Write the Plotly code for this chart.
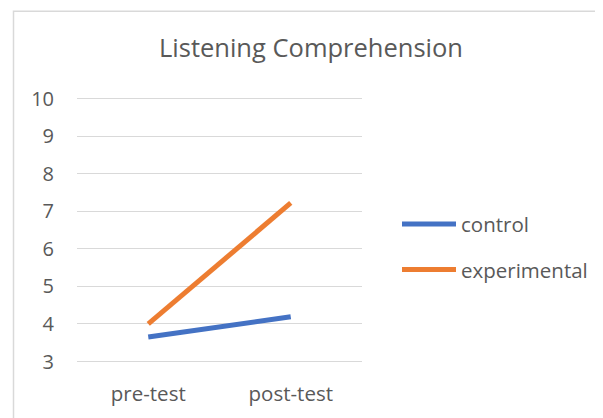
import plotly.graph_objects as go

categories = ["pre-test", "post-test"]
control = [3.65, 4.19]
experimental = [4.0, 7.22]
y_ticks = [3, 4, 5, 6, 7, 8, 9, 10]
y_range = [2.96, 10.04]

W, H = 603, 418
OFF = 8  # page body margin
PAD = 1.5  # keeps the 3 and 10 grid lines inside the plot area
L, R = 77 - OFF, W - 362 + OFF
T, B = 98 - OFF - PAD, H - 362 + OFF - PAD
pw, ph = W - L - R, H - T - B

def px(x):
    return (x - OFF - L) / pw

def py(y):
    return (H - B - (y - OFF)) / ph

fig = go.Figure()
fig.add_trace(go.Scatter(x=categories, y=control, mode="lines", name="control",
                         legendgroup="a", line=dict(color="#4472C4", width=5)))
fig.add_trace(go.Scatter(x=categories, y=experimental, mode="lines", name="experimental",
                         legendgroup="b", line=dict(color="#ED7D31", width=5)))

font = "'Open Sans', sans-serif"
fig.update_layout(
    width=W, height=H,
    margin=dict(l=L, r=R, t=T, b=B),
    paper_bgcolor="white", plot_bgcolor="white",
    font=dict(family=font, size=20, color="#595959"),
    title=dict(text="Listening Comprehension", xref="container", x=(311 - OFF) / W,
               xanchor="center", yref="container", y=1 - (48 - OFF) / H, yanchor="middle",
               font=dict(size=25.5, color="#595959")),
    xaxis=dict(type="category", range=[-0.5, 1.5], showgrid=False, showline=False, ticks="",
               ticklabelstandoff=16, tickfont=dict(size=20.5, color="#595959")),
    yaxis=dict(range=y_range, tickvals=y_ticks, showgrid=True, gridcolor="#d9d9d9",
               gridwidth=1.3, zeroline=False, showline=False, ticks="",
               ticklabelstandoff=22, tickfont=dict(size=20, color="#595959")),
    legend=dict(x=px(397), y=py(224 - 20), xanchor="left", yanchor="top",
                font=dict(size=20.5, color="#595959"), traceorder="grouped",
                tracegroupgap=16, itemwidth=54, bgcolor="rgba(0,0,0,0)"),
    showlegend=True,
)
fig.add_shape(type="rect", xref="paper", yref="paper",
              x0=px(13.5), x1=px(640), y0=py(10.5), y1=py(460),
              line=dict(color="#d9d9d9", width=1.5), layer="below")
fig.write_html("out.html")
